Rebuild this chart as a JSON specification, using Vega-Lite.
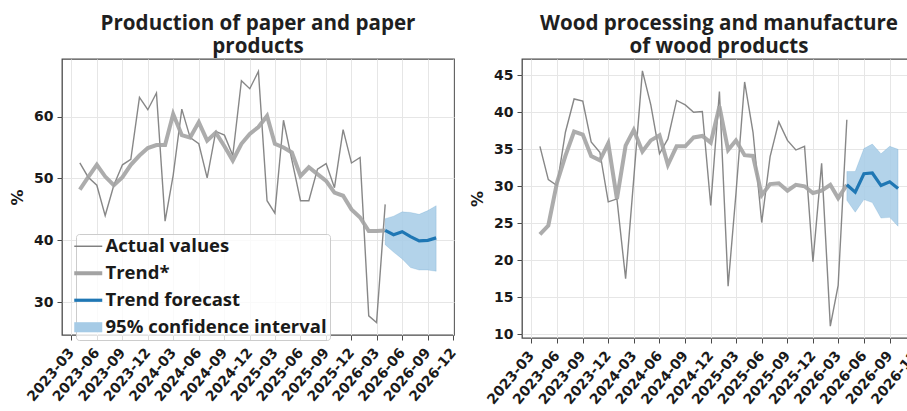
{
  "$schema": "https://vega.github.io/schema/vega-lite/v6.json",
  "padding": {"left": 8, "top": 13, "right": 0, "bottom": 0},
  "spacing": 8,
  "datasets": {
    "d": [
      {"p":"a","t":"2023-04-01","s":"Actual values","v":52.5},
      {"p":"a","t":"2023-05-01","s":"Actual values","v":50.2},
      {"p":"a","t":"2023-06-01","s":"Actual values","v":48.9},
      {"p":"a","t":"2023-07-01","s":"Actual values","v":44.0},
      {"p":"a","t":"2023-08-01","s":"Actual values","v":48.9},
      {"p":"a","t":"2023-09-01","s":"Actual values","v":52.2},
      {"p":"a","t":"2023-10-01","s":"Actual values","v":53.1},
      {"p":"a","t":"2023-11-01","s":"Actual values","v":63.1},
      {"p":"a","t":"2023-12-01","s":"Actual values","v":61.1},
      {"p":"a","t":"2024-01-01","s":"Actual values","v":63.8},
      {"p":"a","t":"2024-02-01","s":"Actual values","v":43.1},
      {"p":"a","t":"2024-03-01","s":"Actual values","v":50.5},
      {"p":"a","t":"2024-04-01","s":"Actual values","v":61.2},
      {"p":"a","t":"2024-05-01","s":"Actual values","v":56.6},
      {"p":"a","t":"2024-06-01","s":"Actual values","v":55.6},
      {"p":"a","t":"2024-07-01","s":"Actual values","v":50.1},
      {"p":"a","t":"2024-08-01","s":"Actual values","v":57.6},
      {"p":"a","t":"2024-09-01","s":"Actual values","v":57.0},
      {"p":"a","t":"2024-10-01","s":"Actual values","v":53.7},
      {"p":"a","t":"2024-11-01","s":"Actual values","v":65.8},
      {"p":"a","t":"2024-12-01","s":"Actual values","v":64.5},
      {"p":"a","t":"2025-01-01","s":"Actual values","v":67.3},
      {"p":"a","t":"2025-02-01","s":"Actual values","v":46.4},
      {"p":"a","t":"2025-03-01","s":"Actual values","v":44.4},
      {"p":"a","t":"2025-04-01","s":"Actual values","v":59.4},
      {"p":"a","t":"2025-05-01","s":"Actual values","v":53.0},
      {"p":"a","t":"2025-06-01","s":"Actual values","v":46.4},
      {"p":"a","t":"2025-07-01","s":"Actual values","v":46.4},
      {"p":"a","t":"2025-08-01","s":"Actual values","v":51.5},
      {"p":"a","t":"2025-09-01","s":"Actual values","v":52.4},
      {"p":"a","t":"2025-10-01","s":"Actual values","v":48.5},
      {"p":"a","t":"2025-11-01","s":"Actual values","v":57.9},
      {"p":"a","t":"2025-12-01","s":"Actual values","v":52.5},
      {"p":"a","t":"2026-01-01","s":"Actual values","v":53.4},
      {"p":"a","t":"2026-02-01","s":"Actual values","v":27.8},
      {"p":"a","t":"2026-03-01","s":"Actual values","v":26.7},
      {"p":"a","t":"2026-04-01","s":"Actual values","v":45.8},
      {"p":"a","t":"2023-04-01","s":"Trend*","v":48.2},
      {"p":"a","t":"2023-05-01","s":"Trend*","v":50.2},
      {"p":"a","t":"2023-06-01","s":"Trend*","v":52.2},
      {"p":"a","t":"2023-07-01","s":"Trend*","v":50.3},
      {"p":"a","t":"2023-08-01","s":"Trend*","v":48.9},
      {"p":"a","t":"2023-09-01","s":"Trend*","v":50.2},
      {"p":"a","t":"2023-10-01","s":"Trend*","v":52.2},
      {"p":"a","t":"2023-11-01","s":"Trend*","v":53.7},
      {"p":"a","t":"2023-12-01","s":"Trend*","v":54.9},
      {"p":"a","t":"2024-01-01","s":"Trend*","v":55.4},
      {"p":"a","t":"2024-02-01","s":"Trend*","v":55.4},
      {"p":"a","t":"2024-03-01","s":"Trend*","v":60.4},
      {"p":"a","t":"2024-04-01","s":"Trend*","v":57.0},
      {"p":"a","t":"2024-05-01","s":"Trend*","v":56.6},
      {"p":"a","t":"2024-06-01","s":"Trend*","v":59.1},
      {"p":"a","t":"2024-07-01","s":"Trend*","v":56.1},
      {"p":"a","t":"2024-08-01","s":"Trend*","v":57.4},
      {"p":"a","t":"2024-09-01","s":"Trend*","v":55.2},
      {"p":"a","t":"2024-10-01","s":"Trend*","v":52.9},
      {"p":"a","t":"2024-11-01","s":"Trend*","v":55.6},
      {"p":"a","t":"2024-12-01","s":"Trend*","v":57.2},
      {"p":"a","t":"2025-01-01","s":"Trend*","v":58.3},
      {"p":"a","t":"2025-02-01","s":"Trend*","v":60.1},
      {"p":"a","t":"2025-03-01","s":"Trend*","v":55.6},
      {"p":"a","t":"2025-04-01","s":"Trend*","v":55.0},
      {"p":"a","t":"2025-05-01","s":"Trend*","v":54.2},
      {"p":"a","t":"2025-06-01","s":"Trend*","v":50.4},
      {"p":"a","t":"2025-07-01","s":"Trend*","v":51.8},
      {"p":"a","t":"2025-08-01","s":"Trend*","v":50.7},
      {"p":"a","t":"2025-09-01","s":"Trend*","v":49.6},
      {"p":"a","t":"2025-10-01","s":"Trend*","v":47.7},
      {"p":"a","t":"2025-11-01","s":"Trend*","v":47.2},
      {"p":"a","t":"2025-12-01","s":"Trend*","v":45.0},
      {"p":"a","t":"2026-01-01","s":"Trend*","v":43.7},
      {"p":"a","t":"2026-02-01","s":"Trend*","v":41.5},
      {"p":"a","t":"2026-03-01","s":"Trend*","v":41.5},
      {"p":"a","t":"2026-04-01","s":"Trend*","v":41.6},
      {"p":"a","t":"2026-04-01","s":"Trend forecast","v":41.6},
      {"p":"a","t":"2026-05-01","s":"Trend forecast","v":40.9},
      {"p":"a","t":"2026-06-01","s":"Trend forecast","v":41.4},
      {"p":"a","t":"2026-07-01","s":"Trend forecast","v":40.6},
      {"p":"a","t":"2026-08-01","s":"Trend forecast","v":39.9},
      {"p":"a","t":"2026-09-01","s":"Trend forecast","v":40.0},
      {"p":"a","t":"2026-10-01","s":"Trend forecast","v":40.4},
      {"p":"a","t":"2026-04-01","s":"95% confidence interval","lo":39.3,"hi":43.5},
      {"p":"a","t":"2026-05-01","s":"95% confidence interval","lo":38.1,"hi":43.9},
      {"p":"a","t":"2026-06-01","s":"95% confidence interval","lo":37.0,"hi":44.6},
      {"p":"a","t":"2026-07-01","s":"95% confidence interval","lo":35.6,"hi":44.5},
      {"p":"a","t":"2026-08-01","s":"95% confidence interval","lo":35.2,"hi":44.2},
      {"p":"a","t":"2026-09-01","s":"95% confidence interval","lo":35.2,"hi":44.8},
      {"p":"a","t":"2026-10-01","s":"95% confidence interval","lo":35.0,"hi":45.6},
      {"p":"b","t":"2023-04-01","s":"Actual values","v":35.4},
      {"p":"b","t":"2023-05-01","s":"Actual values","v":30.9},
      {"p":"b","t":"2023-06-01","s":"Actual values","v":30.1},
      {"p":"b","t":"2023-07-01","s":"Actual values","v":37.3},
      {"p":"b","t":"2023-08-01","s":"Actual values","v":41.8},
      {"p":"b","t":"2023-09-01","s":"Actual values","v":41.5},
      {"p":"b","t":"2023-10-01","s":"Actual values","v":36.0},
      {"p":"b","t":"2023-11-01","s":"Actual values","v":34.6},
      {"p":"b","t":"2023-12-01","s":"Actual values","v":27.9},
      {"p":"b","t":"2024-01-01","s":"Actual values","v":28.3},
      {"p":"b","t":"2024-02-01","s":"Actual values","v":17.5},
      {"p":"b","t":"2024-03-01","s":"Actual values","v":31.0},
      {"p":"b","t":"2024-04-01","s":"Actual values","v":45.6},
      {"p":"b","t":"2024-05-01","s":"Actual values","v":41.0},
      {"p":"b","t":"2024-06-01","s":"Actual values","v":34.4},
      {"p":"b","t":"2024-07-01","s":"Actual values","v":36.4},
      {"p":"b","t":"2024-08-01","s":"Actual values","v":41.6},
      {"p":"b","t":"2024-09-01","s":"Actual values","v":41.0},
      {"p":"b","t":"2024-10-01","s":"Actual values","v":40.0},
      {"p":"b","t":"2024-11-01","s":"Actual values","v":40.1},
      {"p":"b","t":"2024-12-01","s":"Actual values","v":27.4},
      {"p":"b","t":"2025-01-01","s":"Actual values","v":42.8},
      {"p":"b","t":"2025-02-01","s":"Actual values","v":16.5},
      {"p":"b","t":"2025-03-01","s":"Actual values","v":29.0},
      {"p":"b","t":"2025-04-01","s":"Actual values","v":44.1},
      {"p":"b","t":"2025-05-01","s":"Actual values","v":37.3},
      {"p":"b","t":"2025-06-01","s":"Actual values","v":25.1},
      {"p":"b","t":"2025-07-01","s":"Actual values","v":34.0},
      {"p":"b","t":"2025-08-01","s":"Actual values","v":38.7},
      {"p":"b","t":"2025-09-01","s":"Actual values","v":36.2},
      {"p":"b","t":"2025-10-01","s":"Actual values","v":34.9},
      {"p":"b","t":"2025-11-01","s":"Actual values","v":35.4},
      {"p":"b","t":"2025-12-01","s":"Actual values","v":19.8},
      {"p":"b","t":"2026-01-01","s":"Actual values","v":33.1},
      {"p":"b","t":"2026-02-01","s":"Actual values","v":11.1},
      {"p":"b","t":"2026-03-01","s":"Actual values","v":16.6},
      {"p":"b","t":"2026-04-01","s":"Actual values","v":39.0},
      {"p":"b","t":"2023-04-01","s":"Trend*","v":23.5},
      {"p":"b","t":"2023-05-01","s":"Trend*","v":24.7},
      {"p":"b","t":"2023-06-01","s":"Trend*","v":30.5},
      {"p":"b","t":"2023-07-01","s":"Trend*","v":34.1},
      {"p":"b","t":"2023-08-01","s":"Trend*","v":37.4},
      {"p":"b","t":"2023-09-01","s":"Trend*","v":37.0},
      {"p":"b","t":"2023-10-01","s":"Trend*","v":34.1},
      {"p":"b","t":"2023-11-01","s":"Trend*","v":33.5},
      {"p":"b","t":"2023-12-01","s":"Trend*","v":35.8},
      {"p":"b","t":"2024-01-01","s":"Trend*","v":28.3},
      {"p":"b","t":"2024-02-01","s":"Trend*","v":35.5},
      {"p":"b","t":"2024-03-01","s":"Trend*","v":37.6},
      {"p":"b","t":"2024-04-01","s":"Trend*","v":34.7},
      {"p":"b","t":"2024-05-01","s":"Trend*","v":36.2},
      {"p":"b","t":"2024-06-01","s":"Trend*","v":36.9},
      {"p":"b","t":"2024-07-01","s":"Trend*","v":32.9},
      {"p":"b","t":"2024-08-01","s":"Trend*","v":35.4},
      {"p":"b","t":"2024-09-01","s":"Trend*","v":35.4},
      {"p":"b","t":"2024-10-01","s":"Trend*","v":36.6},
      {"p":"b","t":"2024-11-01","s":"Trend*","v":36.8},
      {"p":"b","t":"2024-12-01","s":"Trend*","v":35.9},
      {"p":"b","t":"2025-01-01","s":"Trend*","v":40.8},
      {"p":"b","t":"2025-02-01","s":"Trend*","v":34.9},
      {"p":"b","t":"2025-03-01","s":"Trend*","v":36.2},
      {"p":"b","t":"2025-04-01","s":"Trend*","v":34.2},
      {"p":"b","t":"2025-05-01","s":"Trend*","v":34.1},
      {"p":"b","t":"2025-06-01","s":"Trend*","v":28.8},
      {"p":"b","t":"2025-07-01","s":"Trend*","v":30.3},
      {"p":"b","t":"2025-08-01","s":"Trend*","v":30.4},
      {"p":"b","t":"2025-09-01","s":"Trend*","v":29.4},
      {"p":"b","t":"2025-10-01","s":"Trend*","v":30.2},
      {"p":"b","t":"2025-11-01","s":"Trend*","v":30.0},
      {"p":"b","t":"2025-12-01","s":"Trend*","v":29.1},
      {"p":"b","t":"2026-01-01","s":"Trend*","v":29.4},
      {"p":"b","t":"2026-02-01","s":"Trend*","v":30.2},
      {"p":"b","t":"2026-03-01","s":"Trend*","v":28.4},
      {"p":"b","t":"2026-04-01","s":"Trend*","v":30.2},
      {"p":"b","t":"2026-04-01","s":"Trend forecast","v":30.2},
      {"p":"b","t":"2026-05-01","s":"Trend forecast","v":29.2},
      {"p":"b","t":"2026-06-01","s":"Trend forecast","v":31.7},
      {"p":"b","t":"2026-07-01","s":"Trend forecast","v":31.8},
      {"p":"b","t":"2026-08-01","s":"Trend forecast","v":30.1},
      {"p":"b","t":"2026-09-01","s":"Trend forecast","v":30.6},
      {"p":"b","t":"2026-10-01","s":"Trend forecast","v":29.7},
      {"p":"b","t":"2026-04-01","s":"95% confidence interval","lo":28.1,"hi":32.0},
      {"p":"b","t":"2026-05-01","s":"95% confidence interval","lo":26.5,"hi":32.0},
      {"p":"b","t":"2026-06-01","s":"95% confidence interval","lo":28.2,"hi":35.1},
      {"p":"b","t":"2026-07-01","s":"95% confidence interval","lo":27.8,"hi":35.7},
      {"p":"b","t":"2026-08-01","s":"95% confidence interval","lo":25.7,"hi":34.4},
      {"p":"b","t":"2026-09-01","s":"95% confidence interval","lo":25.8,"hi":35.4},
      {"p":"b","t":"2026-10-01","s":"95% confidence interval","lo":24.6,"hi":35.0}
    ]
  },
  "resolve": {"scale": {"color": "independent", "x": "independent", "y": "independent"}, "legend": {"color": "independent"}},
  "hconcat": [
    {
      "width": 392,
      "height": 276,
      "title": {"text": ["Production of paper and paper", "products"]},
      "data": {"name": "d"},
      "transform": [{"filter": "datum.p === 'a'"}],
      "encoding": {
        "x": {
          "field": "t", "type": "temporal", "title": null,
          "scale": {"type": "utc", "domain": [{"year": 2023, "month": 1, "date": 27, "utc": true}, {"year": 2026, "month": 12, "date": 4, "utc": true}]},
          "axis": {
            "values": [
              {"year": 2023, "month": 3, "date": 1, "utc": true}, {"year": 2023, "month": 6, "date": 1, "utc": true}, {"year": 2023, "month": 9, "date": 1, "utc": true}, {"year": 2023, "month": 12, "date": 1, "utc": true},
              {"year": 2024, "month": 3, "date": 1, "utc": true}, {"year": 2024, "month": 6, "date": 1, "utc": true}, {"year": 2024, "month": 9, "date": 1, "utc": true}, {"year": 2024, "month": 12, "date": 1, "utc": true},
              {"year": 2025, "month": 3, "date": 1, "utc": true}, {"year": 2025, "month": 6, "date": 1, "utc": true}, {"year": 2025, "month": 9, "date": 1, "utc": true}, {"year": 2025, "month": 12, "date": 1, "utc": true},
              {"year": 2026, "month": 3, "date": 1, "utc": true}, {"year": 2026, "month": 6, "date": 1, "utc": true}, {"year": 2026, "month": 9, "date": 1, "utc": true}, {"year": 2026, "month": 12, "date": 1, "utc": true}
            ],
            "format": "%Y-%m", "labelAngle": -50, "labelAlign": "right", "labelBaseline": "middle", "labelPadding": 10, "labelOverlap": false, "labelFlush": false, "labelBound": false
          }
        },
        "color": {
          "field": "s", "type": "nominal",
          "scale": {"domain": ["Actual values", "Trend*", "Trend forecast", "95% confidence interval"], "range": ["#7a7a7a", "#a3a3a3", "#1f77b4", "#a6cbe6"]},
          "legend": {
            "orient": "none", "legendX": 14, "legendY": 175, "title": null,
            "labelFont": "Open Sans", "labelFontSize": 18.5, "labelFontWeight": "bold", "labelColor": "#1a1a1a", "labelLimit": 500,
            "labelOffset": 8, "padding": 3, "rowPadding": 8, "symbolSize": 784, "symbolType": "stroke",
            "fillColor": "rgba(255,255,255,0.8)", "strokeColor": "#cccccc", "cornerRadius": 3,
            "encode": {
              "symbols": {
                "update": {
                  "shape": {"signal": "datum.value === '95% confidence interval' ? 'M-1,-0.36H1V0.36H-1Z' : 'stroke'"},
                  "strokeWidth": {"signal": "datum.value === 'Actual values' ? 1.4 : datum.value === 'Trend*' ? 4 : datum.value === 'Trend forecast' ? 3.2 : 0"},
                  "opacity": {"value": 1}
                }
              }
            }
          }
        }
      },
      "layer": [
        {
          "transform": [{"filter": "datum.s === '95% confidence interval'"}],
          "mark": {"type": "area", "fillOpacity": 0.85, "stroke": "#1f77b4", "strokeOpacity": 0.15, "strokeWidth": 1},
          "encoding": {
            "y": {"field": "lo", "type": "quantitative", "title": "%", "scale": {"domain": [24.7, 69.3], "nice": false, "zero": false}, "axis": {"values": [30, 40, 50, 60]}},
            "y2": {"field": "hi"}
          }
        },
        {
          "transform": [{"filter": "datum.s === 'Actual values'"}],
          "mark": {"type": "line", "strokeWidth": 1.4, "opacity": 0.9},
          "encoding": {"y": {"field": "v", "type": "quantitative", "title": "%", "axis": {"values": [30, 40, 50, 60]}}}
        },
        {
          "transform": [{"filter": "datum.s === 'Trend*'"}],
          "mark": {"type": "line", "strokeWidth": 4, "opacity": 0.9},
          "encoding": {"y": {"field": "v", "type": "quantitative", "title": "%", "axis": {"values": [30, 40, 50, 60]}}}
        },
        {
          "transform": [{"filter": "datum.s === 'Trend forecast'"}],
          "mark": {"type": "line", "strokeWidth": 3.2},
          "encoding": {"y": {"field": "v", "type": "quantitative", "title": "%", "axis": {"values": [30, 40, 50, 60]}}}
        }
      ]
    },
    {
      "width": 394,
      "height": 279,
      "title": {"text": ["Wood processing and manufacture", "of wood products"]},
      "data": {"name": "d"},
      "transform": [{"filter": "datum.p === 'b'"}],
      "encoding": {
        "x": {
          "field": "t", "type": "temporal", "title": null,
          "scale": {"type": "utc", "domain": [{"year": 2023, "month": 1, "date": 27, "utc": true}, {"year": 2026, "month": 12, "date": 4, "utc": true}]},
          "axis": {
            "values": [
              {"year": 2023, "month": 3, "date": 1, "utc": true}, {"year": 2023, "month": 6, "date": 1, "utc": true}, {"year": 2023, "month": 9, "date": 1, "utc": true}, {"year": 2023, "month": 12, "date": 1, "utc": true},
              {"year": 2024, "month": 3, "date": 1, "utc": true}, {"year": 2024, "month": 6, "date": 1, "utc": true}, {"year": 2024, "month": 9, "date": 1, "utc": true}, {"year": 2024, "month": 12, "date": 1, "utc": true},
              {"year": 2025, "month": 3, "date": 1, "utc": true}, {"year": 2025, "month": 6, "date": 1, "utc": true}, {"year": 2025, "month": 9, "date": 1, "utc": true}, {"year": 2025, "month": 12, "date": 1, "utc": true},
              {"year": 2026, "month": 3, "date": 1, "utc": true}, {"year": 2026, "month": 6, "date": 1, "utc": true}, {"year": 2026, "month": 9, "date": 1, "utc": true}, {"year": 2026, "month": 12, "date": 1, "utc": true}
            ],
            "format": "%Y-%m", "labelAngle": -50, "labelAlign": "right", "labelBaseline": "middle", "labelPadding": 10, "labelOverlap": false, "labelFlush": false, "labelBound": false
          }
        },
        "color": {
          "field": "s", "type": "nominal", "legend": null,
          "scale": {"domain": ["Actual values", "Trend*", "Trend forecast", "95% confidence interval"], "range": ["#7a7a7a", "#a3a3a3", "#1f77b4", "#a6cbe6"]}
        }
      },
      "layer": [
        {
          "transform": [{"filter": "datum.s === '95% confidence interval'"}],
          "mark": {"type": "area", "fillOpacity": 0.85, "stroke": "#1f77b4", "strokeOpacity": 0.15, "strokeWidth": 1},
          "encoding": {
            "y": {"field": "lo", "type": "quantitative", "title": "%", "scale": {"domain": [9.5, 47.2], "nice": false, "zero": false}, "axis": {"values": [10, 15, 20, 25, 30, 35, 40, 45]}},
            "y2": {"field": "hi"}
          }
        },
        {
          "transform": [{"filter": "datum.s === 'Actual values'"}],
          "mark": {"type": "line", "strokeWidth": 1.4, "opacity": 0.9},
          "encoding": {"y": {"field": "v", "type": "quantitative", "title": "%", "axis": {"values": [10, 15, 20, 25, 30, 35, 40, 45]}}}
        },
        {
          "transform": [{"filter": "datum.s === 'Trend*'"}],
          "mark": {"type": "line", "strokeWidth": 4, "opacity": 0.9},
          "encoding": {"y": {"field": "v", "type": "quantitative", "title": "%", "axis": {"values": [10, 15, 20, 25, 30, 35, 40, 45]}}}
        },
        {
          "transform": [{"filter": "datum.s === 'Trend forecast'"}],
          "mark": {"type": "line", "strokeWidth": 3.2},
          "encoding": {"y": {"field": "v", "type": "quantitative", "title": "%", "axis": {"values": [10, 15, 20, 25, 30, 35, 40, 45]}}}
        }
      ]
    }
  ],
  "config": {
    "view": {"stroke": "#4a4a4a", "strokeWidth": 1.3},
    "axis": {
      "labelFont": "DejaVu Sans", "labelFontWeight": "bold", "labelFontSize": 14, "labelColor": "#1a1a1a",
      "titleFont": "DejaVu Sans", "titleFontWeight": "bold", "titleFontSize": 16, "titleColor": "#1a1a1a", "titlePadding": 8,
      "gridColor": "#e6e6e6", "gridWidth": 1, "tickColor": "#4a4a4a", "tickSize": 5, "tickWidth": 1, "labelPadding": 4, "domain": false
    },
    "title": {"font": "Open Sans", "fontSize": 20.6, "fontWeight": "bold", "color": "#1f1f1f", "anchor": "middle", "lineHeight": 23, "offset": 1}
  }
}
